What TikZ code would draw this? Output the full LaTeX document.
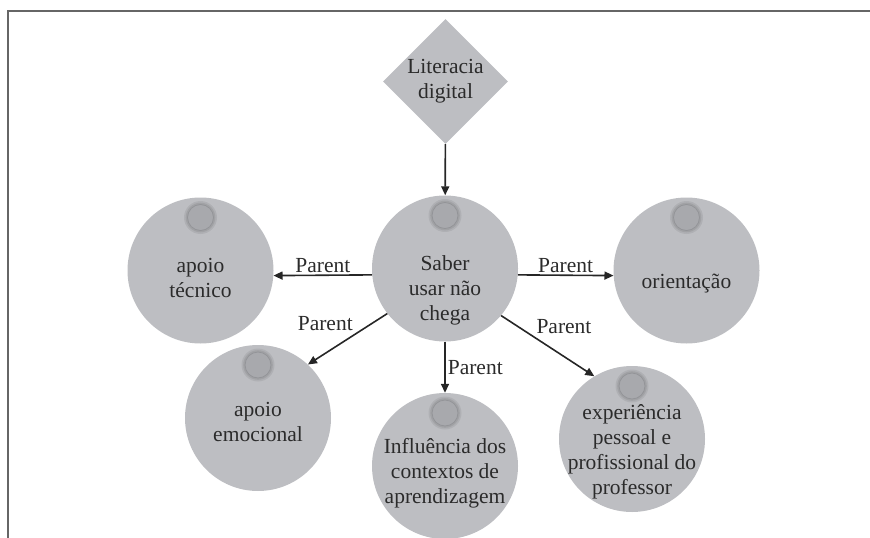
\documentclass[tikz,border=0pt]{standalone}
\usepackage{fontspec}
\setmainfont{Liberation Serif}
\usetikzlibrary{positioning,shapes.geometric,arrows.meta}
\definecolor{bubblegray}{HTML}{BDBEC2}
\definecolor{knobgray}{HTML}{A8A9AD}
\definecolor{knobedge}{HTML}{939498}
\definecolor{inkgray}{HTML}{2B2B2B}
\definecolor{framegray}{HTML}{666666}
\tikzset{bubble/.style={circle,fill=bubblegray,minimum size=146pt,inner sep=0pt,
path picture={\fill[black,opacity=.07] ([yshift=53pt]path picture bounding box.center) circle (16.5pt);
\fill[black,opacity=.08] ([yshift=53pt]path picture bounding box.center) circle (14.8pt);
\fill[knobgray,draw=knobedge,line width=.8pt] ([yshift=53pt]path picture bounding box.center) circle (13pt);}},
lit/.style={diamond,fill=bubblegray,minimum size=125pt,inner sep=0pt,align=center,text=inkgray},
lbl/.style={align=center,text=inkgray,inner sep=0pt},
tag/.style={text=inkgray,inner sep=2pt},
rel/.style={-{Triangle[length=9pt,width=8pt]},line width=1.6pt,draw=black!85}}

\begin{document}
\begin{tikzpicture}[x=1pt,y=-1pt,font=\fontsize{21.5}{25}\selectfont]
		\useasboundingbox (0,0) rectangle (870,538);
		\draw[framegray,line width=2pt] (8,538) -- (8,11) -- (870,11);

		\node[lit] (lit) at (445.5,81.5) {Literacia\\digital};

		\node[bubble,label={[lbl,yshift=-22pt]center:Saber\\usar não\\chega}] (saber) at (445,268.5) {};
		\node[bubble,label={[lbl,yshift=-7pt]center:apoio\\técnico}] (tecnico) at (200.5,270.5) {};
		\node[bubble,label={[lbl,yshift=-13pt]center:orientação}] (orient) at (686.5,270.5) {};
		\node[bubble,label={[lbl,yshift=-4pt]center:apoio\\emocional}] (emoc) at (258,418) {};
		\node[bubble,label={[lbl,yshift=-7pt]center:Influência dos\\contextos de\\aprendizagem}] (influ) at (445,466) {};
		\node[bubble,label={[lbl,yshift=-13pt]center:experiência\\pessoal e\\profissional do\\professor}] (exper) at (632,439) {};

		\draw[rel] (lit) -- (saber);
		\draw[rel] (saber.185) -- node[tag,above] (p1) {Parent} (tecnico.-4);
		\draw[rel] (saber.-5) -- node[tag,above] (p2) {Parent} (orient.184);
		\draw[rel] (saber.218) -- node[tag,above left,pos=.4] (p3) {Parent} (emoc.47);
		\draw[rel] (saber) -- node[tag,right] (p4) {Parent} (influ);
		\draw[rel] (saber.-40) -- node[tag,above right,pos=.35] (p5) {Parent} (exper.121);
	\end{tikzpicture}
\end{document}
